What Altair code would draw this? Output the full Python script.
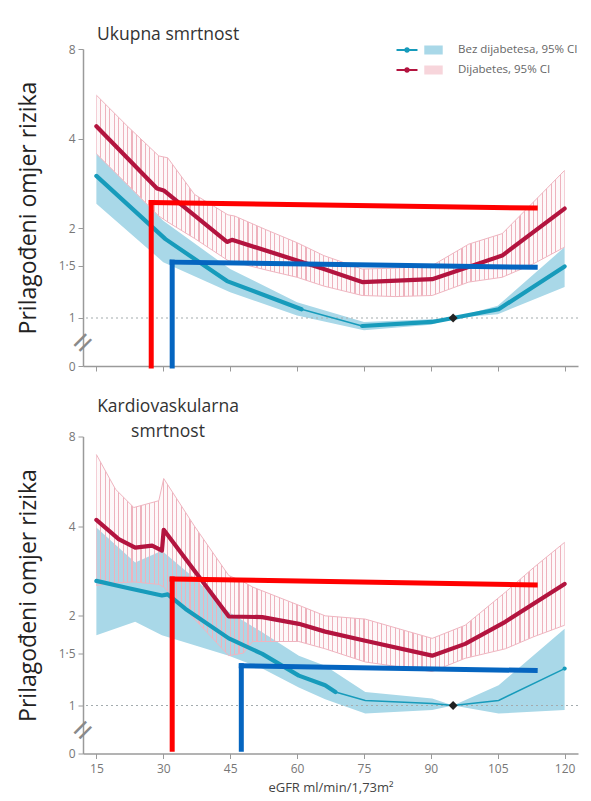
import altair as alt
import pandas as pd

BEZ = "Bez dijabetesa, 95% CI"
DIJ = "Dijabetes, 95% CI"
LINE_KEYS = ["bez", "dij"]

# ---------------- axis ticks ----------------
x_ticks = [15, 30, 45, 60, 75, 90, 105, 120]
y_tick_values = [0.69, 1, 1.5, 2, 4, 8]
y_tick_labels = ["0", "1", "1·5", "2", "4", "8"]

# ---------------- panel 1: Ukupna smrtnost ----------------
t_red_x = [15, 28.6, 30.1, 44.3, 45.4, 60, 66, 74.6, 90.3, 106, 120]
t_red_y = [4.4, 2.72, 2.68, 1.80, 1.83, 1.56, 1.46, 1.32, 1.35, 1.62, 2.33]
t_ci_x = [15, 22, 29, 31, 37, 44.5, 46, 53, 60, 66, 74.6, 82, 90.3, 98.5, 106, 113, 120]
t_ci_hi = [5.6, 4.4, 3.5, 3.45, 2.6, 2.22, 2.2, 1.98, 1.79, 1.62, 1.46, 1.47, 1.50, 1.77, 1.92, 2.45, 3.13]
t_ci_lo = [3.56, 2.8, 2.2, 2.1, 1.85, 1.56, 1.54, 1.45, 1.37, 1.28, 1.19, 1.18, 1.19, 1.32, 1.37, 1.52, 1.73]
t_band_x = [15, 30, 45, 60, 75, 90, 95, 105, 120]
t_band_hi = [3.56, 2.12, 1.46, 1.13, 0.97, 0.99, 1.0, 1.10, 1.73]
t_band_lo = [2.42, 1.54, 1.22, 1.02, 0.91, 0.95, 1.0, 1.03, 1.27]
t_blue_x = [15, 30.5, 44.3, 61, 74.6, 90.3, 95, 105.2, 120]
t_blue_y = [3.0, 1.84, 1.33, 1.07, 0.94, 0.97, 1.0, 1.07, 1.49]
t_thin = (61, 74.6)
# hand-drawn annotation lines (x, x2, y, y2)
t_ann_red = {"x": [27.3, 27.3], "x2": [27.3, 113.4], "y": [0.69, 2.44], "y2": [2.44, 2.34]}
t_ann_blue = {"x": [32.0, 32.0], "x2": [32.0, 113.4], "y": [0.69, 1.54], "y2": [1.54, 1.48]}

# ---------------- panel 2: Kardiovaskularna smrtnost ----------------
b_red_x = [15, 20, 23.7, 27.5, 29.7, 30.1, 44.7, 52.2, 60.4, 66.3, 75.3, 90.3, 97.7, 106.7, 120]
b_red_y = [4.2, 3.62, 3.39, 3.44, 3.31, 3.89, 1.99, 1.98, 1.88, 1.77, 1.65, 1.47, 1.61, 1.91, 2.56]
b_ci_x = [15, 19.3, 23.4, 29, 30.1, 37, 44.7, 48, 50, 60.4, 66.3, 75.3, 90.3, 97.7, 106.7, 113, 120]
b_ci_hi = [6.96, 5.32, 4.62, 4.87, 5.78, 4.0, 2.73, 2.6, 2.5, 2.17, 2.0, 1.95, 1.68, 1.86, 2.4, 2.9, 3.53]
b_ci_lo = [2.53, 2.58, 2.6, 2.55, 2.5, 1.95, 1.47, 1.5, 1.64, 1.64, 1.55, 1.40, 1.30, 1.44, 1.55, 1.7, 1.86]
b_band_x = [15, 23.7, 29.7, 37.2, 44.7, 52.2, 60.4, 66.3, 75.3, 90.3, 95, 105.2, 120]
b_band_hi = [3.96, 3.02, 3.31, 2.66, 2.06, 1.76, 1.47, 1.36, 1.11, 1.055, 1.0, 1.17, 1.81]
b_band_lo = [1.72, 1.91, 1.72, 1.59, 1.47, 1.33, 1.15, 1.05, 0.94, 0.965, 1.0, 0.94, 0.965]
b_blue_x = [15, 22, 29.7, 31, 35, 44.7, 52.2, 60.4, 66.3, 68.6, 75.3, 90.3, 95, 105.2, 120]
b_blue_y = [2.62, 2.48, 2.34, 2.36, 2.11, 1.68, 1.49, 1.26, 1.17, 1.11, 1.04, 1.015, 1.0, 1.04, 1.33]
b_thin = (68.6, 120)
b_ann_red = {"x": [32.0, 32.0], "x2": [32.0, 113.4], "y": [0.713, 2.66], "y2": [2.66, 2.54]}
b_ann_blue = {"x": [47.5, 47.5], "x2": [47.5, 113.4], "y": [0.713, 1.36], "y2": [1.36, 1.31]}

ref_point = {"x": [95], "y": [1.0]}
ref_line = {"y": [1.0]}
break_mark = {"x": [12.2], "y": [0.82]}

# ---------------- styling ----------------
RED = "#b3143f"
TEAL = "#179bbb"
BAND = "#a9d8e8"
HATCH = "#eeb2bd"
GRAY = "#9a9a9a"
W, H = 495, 317

xscale = alt.Scale(domain=[12, 123], nice=False, zero=False)
yscale = alt.Scale(type="log", domain=[0.69, 8], nice=False)

label_expr = " : ".join(
    f"abs(datum.value - {v}) < 0.01 ? '{l}'" for v, l in zip(y_tick_values, y_tick_labels)
) + " : ''"

yaxis = alt.Axis(values=y_tick_values, labelExpr=label_expr, title="Prilagođeni omjer rizika",
                 titleFontSize=23, titleFontWeight="normal", titleColor="#222",
                 titlePadding=18, labelPadding=3, labelFontSize=12, labelColor="#777",
                 tickSize=5, tickColor=GRAY, domainColor=GRAY, domainWidth=1.5, grid=False)


def xaxis(show):
    if show:
        return alt.Axis(values=x_ticks, labelFontSize=12, labelColor="#777", labelPadding=5,
                        title="eGFR ml/min/1,73m²", titleFontSize=13, titleColor="#444",
                        titleFontWeight="normal", titlePadding=7, tickSize=5, tickColor=GRAY,
                        domainColor=GRAY, domainWidth=1.5, grid=False)
    return alt.Axis(values=x_ticks, labels=False, title=None, tickSize=5, tickColor=GRAY,
                    domainColor=GRAY, domainWidth=1.5, grid=False)


# hatch gradient for diabetes CI (vertical stripes, one per eGFR unit)
n_units = 105
half = 0.6 / 468
gap = "rgba(240,190,200,0.10)"
stops = []
for k in range(n_units + 1):
    c = k / n_units
    a, b = max(0.0, c - half), min(1.0, c + half)
    stops += [alt.GradientStop(color=gap, offset=a), alt.GradientStop(color=HATCH, offset=a),
              alt.GradientStop(color=HATCH, offset=b), alt.GradientStop(color=gap, offset=b)]
hatch = alt.LinearGradient(gradient="linear", stops=stops, x1=0, x2=1, y1=0, y2=0)


def split_line(xs, ys, lo, hi):
    thick, thin = [], []
    for x, y in zip(xs, ys):
        if x <= lo:
            thick.append({"x": x, "y": y, "grp": "bez", "part": "a"})
        if x >= hi:
            thick.append({"x": x, "y": y, "grp": "bez", "part": "c"})
        if lo <= x <= hi:
            thin.append({"x": x, "y": y, "part": "b"})
    return thick, thin


def panel(red_x, red_y, ci_x, ci_hi, ci_lo, band_x, band_hi, band_lo, blue_x, blue_y, thin,
          ann_red, ann_blue, title, show_x, show_legend):
    X = lambda f: alt.X(f"{f}:Q", scale=xscale, axis=xaxis(show_x))
    Y = lambda f: alt.Y(f"{f}:Q", scale=yscale, axis=yaxis)

    band_df = pd.DataFrame({"x": band_x, "hi": band_hi, "lo": band_lo, "ci": BEZ})
    ci_df = pd.DataFrame({"x": ci_x, "hi": ci_hi, "lo": ci_lo})
    thick, thin_rows = split_line(blue_x, blue_y, *thin)
    thick += [{"x": x, "y": y, "grp": "dij", "part": "r"} for x, y in zip(red_x, red_y)]
    thick_df = pd.DataFrame(thick)
    thin_df = pd.DataFrame(thin_rows)

    if show_legend:
        fill_leg = alt.Legend(orient="none", legendX=341, legendY=-9, title=None,
                              symbolType="M-1,-0.5H1V0.5H-1Z", symbolSize=340, symbolStrokeWidth=0,
                              symbolOpacity=1, labelFontSize=11.5, labelColor="#666", labelOffset=15,
                              clipHeight=20, rowPadding=0, padding=0, labelFont="Open Sans")
        stroke_leg = alt.Legend(orient="none", legendX=312, legendY=-9, title=None,
                                symbolType="M-1,0L1,0M-0.16,0A0.16,0.16,0,1,1,0.16,0A0.16,0.16,0,1,1,-0.16,0",
                                symbolSize=440, symbolStrokeWidth=2.2, labelExpr="''",
                                clipHeight=20, rowPadding=0, padding=0)
    else:
        fill_leg = None
        stroke_leg = None

    band = alt.Chart(band_df).mark_area(opacity=1).encode(
        x=X("x"), y=Y("lo"), y2="hi",
        fill=alt.Fill("ci:N", scale=alt.Scale(domain=[BEZ, DIJ], range=[BAND, "#f7d5db"]),
                      legend=fill_leg))
    ci = alt.Chart(ci_df).mark_area(fill=hatch).encode(x=X("x"), y=Y("lo"), y2="hi")
    ci_hi_l = alt.Chart(ci_df).mark_line(color="#efb5c0", strokeWidth=1).encode(x=X("x"), y=Y("hi"))
    ci_lo_l = alt.Chart(ci_df).mark_line(color="#efb5c0", strokeWidth=1).encode(x=X("x"), y=Y("lo"))
    ref = alt.Chart(pd.DataFrame(ref_line)).mark_rule(color="#a3abae", strokeDash=[2, 3],
                                                       strokeWidth=1.2).encode(y=Y("y"))
    thin_l = alt.Chart(thin_df).mark_line(color=TEAL, strokeWidth=1.5).encode(x=X("x"), y=Y("y"))
    lines = alt.Chart(thick_df).mark_line(strokeWidth=4.2, strokeCap="round", strokeJoin="round").encode(
        x=X("x"), y=Y("y"), detail="part:N",
        stroke=alt.Stroke("grp:N", scale=alt.Scale(domain=LINE_KEYS, range=[TEAL, RED]),
                          legend=stroke_leg))
    dot = alt.Chart(pd.DataFrame(ref_point)).mark_point(shape="diamond", filled=True, color="#222",
                                                        size=80, opacity=1).encode(x=X("x"), y=Y("y"))
    brk = alt.Chart(pd.DataFrame(break_mark)).mark_text(text="=", fontSize=36, angle=315,
                                                        color="#8a8a8a").encode(x=X("x"), y=Y("y"))
    a_red = alt.Chart(pd.DataFrame(ann_red)).mark_rule(color="#ff0000", strokeWidth=5,
                                                       strokeCap="square").encode(
        x=X("x"), x2="x2", y=Y("y"), y2="y2")
    a_blue = alt.Chart(pd.DataFrame(ann_blue)).mark_rule(color="#0565c0", strokeWidth=5,
                                                         strokeCap="square").encode(
        x=X("x"), x2="x2", y=Y("y"), y2="y2")
    return alt.layer(band, ci, ci_hi_l, ci_lo_l, ref, thin_l, lines, dot, brk, a_red, a_blue).properties(
        width=W, height=H, title=title)


top = panel(t_red_x, t_red_y, t_ci_x, t_ci_hi, t_ci_lo, t_band_x, t_band_hi, t_band_lo,
            t_blue_x, t_blue_y, t_thin, t_ann_red, t_ann_blue,
            alt.TitleParams("Ukupna smrtnost", anchor="start", frame="group", dx=14, offset=-3.5,
                            fontSize=17.5, fontWeight="normal", color="#333"),
            False, True)
bottom = panel(b_red_x, b_red_y, b_ci_x, b_ci_hi, b_ci_lo, b_band_x, b_band_hi, b_band_lo,
               b_blue_x, b_blue_y, b_thin, b_ann_red, b_ann_blue,
               alt.TitleParams(["Kardiovaskularna", "smrtnost"], anchor="start", frame="group",
                               align="center", dx=85, offset=-10, fontSize=17.5, lineHeight=25,
                               fontWeight="normal", color="#333"),
               True, False)

chart = alt.vconcat(top, bottom, spacing=25.5).resolve_scale(
    stroke="independent", fill="independent"
).properties(
    padding={"left": 9, "top": 18, "right": 0, "bottom": 0}
).configure(font="Open Sans").configure_view(stroke=None)

chart.save("out.html", embed_options={"renderer": "svg", "actions": False})
